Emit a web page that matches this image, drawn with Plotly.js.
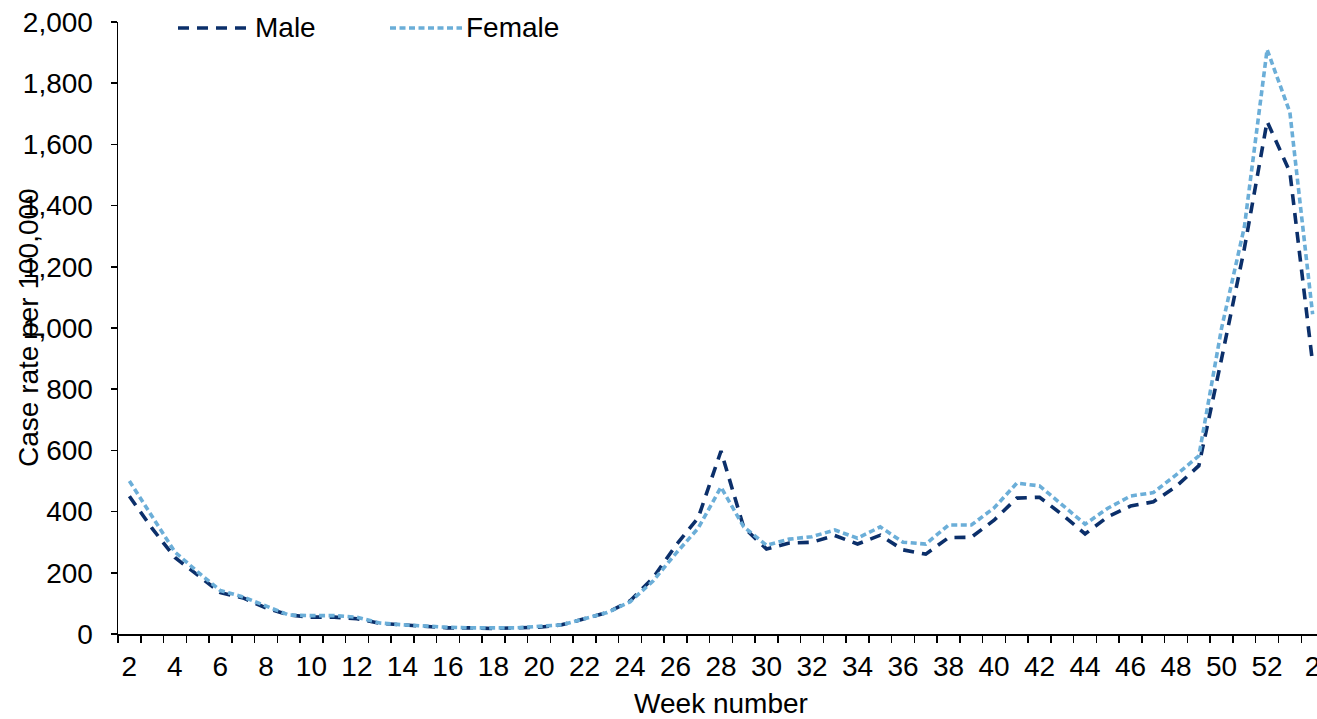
<!DOCTYPE html>
<html>
<head>
<meta charset="utf-8">
<script src="https://cdn.plot.ly/plotly-3.0.1.min.js"></script>
<style>html,body{margin:0;padding:0;background:#fff;overflow:hidden;width:1317px;height:719px;}#chart{width:1324px;height:719px;}</style>
</head>
<body>
<div id="chart"></div>
<script>
// Week numbers (weeks 2-52, then week 1 and week 2 of following year)
const weeks = [2,3,4,5,6,7,8,9,10,11,12,13,14,15,16,17,18,19,20,21,22,23,24,25,26,27,28,29,30,31,32,33,34,35,36,37,38,39,40,41,42,43,44,45,46,47,48,49,50,51,52,1,2];
const male = [450,345,250,192,135,118,85,62,55,55,50,35,30,25,20,20,18,20,22,30,50,70,108,182,288,380,598,348,278,297,300,322,294,323,275,261,315,316,372,444,447,390,327,383,418,432,482,550,900,1260,1675,1510,885];
const female = [500,382,268,203,142,121,92,62,60,60,55,36,30,25,22,20,20,20,25,30,50,70,105,172,262,346,480,350,290,310,318,340,313,350,300,294,356,356,412,493,484,421,359,411,451,462,520,582,1000,1330,1910,1705,1045];
const seriesNames = ['Male', 'Female'];
const yTitle = 'Case rate per 100,000';
const xTitle = 'Week number';

const W = 1324, H = 719, ML = 118, MT = 22, MB = 85;
const PW = W - ML, PH = H - MT - MB;
const px = v => (v - ML) / PW;      // pixel -> paper x
const py = v => (H - MB - v) / PH;  // pixel -> paper y

const idx = weeks.map((w, i) => i);
const tickIdx = idx.filter(i => i % 2 === 0);
const tickText = tickIdx.map(i => String(weeks[i]));

const FONT = 'Liberation Sans, Arial, sans-serif';
const FS = 28;
const colors = ['#0B2F6A', '#6BAED8'];
const dashes = ['11px,8px', '6px,3.5px'];
const traces = [
  {x: idx, y: male, name: seriesNames[0], type: 'scatter', mode: 'lines',
   line: {color: colors[0], width: 3.6, dash: dashes[0]}},
  {x: idx, y: female, name: seriesNames[1], type: 'scatter', mode: 'lines',
   line: {color: colors[1], width: 3.6, dash: dashes[1]}}
];

// custom legend (long line samples like the original)
const legY = py(28);
const legendItems = [
  {x0: 178, x1: 250, tx: 253},
  {x0: 390, x1: 462, tx: 464}
];
const shapes = legendItems.map((it, k) => ({
  type: 'line', xref: 'paper', yref: 'paper',
  x0: px(it.x0), x1: px(it.x1), y0: legY, y1: legY,
  line: {color: colors[k], width: 3.6, dash: dashes[k]}
}));
const annotations = legendItems.map((it, k) => ({
  text: seriesNames[k], xref: 'paper', yref: 'paper', x: px(it.tx), y: legY,
  xanchor: 'left', yanchor: 'middle', showarrow: false,
  font: {family: FONT, size: FS, color: '#000'}
}));
annotations.push({
  text: yTitle, textangle: -90, xref: 'paper', yref: 'paper',
  x: px(28), y: 0.5, xanchor: 'center', yanchor: 'middle', showarrow: false,
  font: {family: FONT, size: FS, color: '#000'}
});

const layout = {
  width: W, height: H,
  margin: {l: ML, r: 0, t: MT, b: MB},
  paper_bgcolor: '#fff', plot_bgcolor: '#fff',
  font: {family: FONT, size: FS, color: '#000'},
  showlegend: false,
  xaxis: {
    range: [-0.5, 52.5], showgrid: false, zeroline: false,
    showline: true, linecolor: '#000', linewidth: 1.5,
    tickmode: 'array', tickvals: tickIdx, ticktext: tickText,
    ticks: 'outside', ticklen: 7, tickcolor: 'rgba(0,0,0,0)',
    tickfont: {family: FONT, size: FS, color: '#000'},
    minor: {tick0: -0.5, dtick: 1, ticks: 'outside', ticklen: 7, tickcolor: '#000', tickwidth: 1.5, showgrid: false},
    title: {text: xTitle, font: {family: FONT, size: FS, color: '#000'}, standoff: 20}
  },
  yaxis: {
    range: [0, 2000], dtick: 200, tickformat: ',d', showgrid: false, zeroline: false,
    showline: true, linecolor: '#000', linewidth: 1.5,
    ticks: 'outside', ticklen: 6, tickcolor: '#000', tickwidth: 1.5,
    ticklabelstandoff: 12,
    tickfont: {family: FONT, size: FS, color: '#000'}
  },
  shapes: shapes,
  annotations: annotations
};

Plotly.newPlot('chart', traces, layout, {displayModeBar: false, staticPlot: true});
</script>
</body>
</html>
